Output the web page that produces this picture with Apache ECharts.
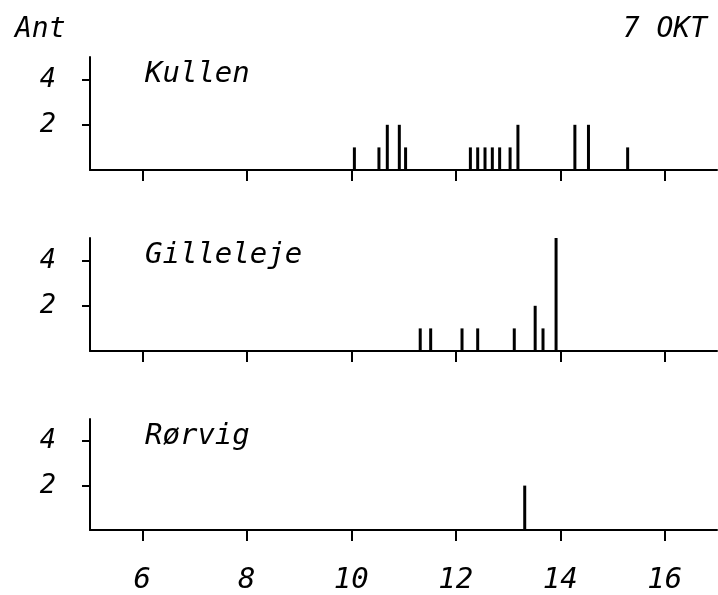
<!DOCTYPE html>
<html>
<head>
<meta charset="utf-8">
<script src="https://cdn.jsdelivr.net/npm/echarts@6/dist/echarts.min.js"></script>
<style>
  html, body { margin: 0; padding: 0; background: #fff; }
  #chart { width: 718px; height: 595px; }
</style>
</head>
<body>
<div id="chart"></div>
<script>
// sites, one panel each
var stations = ['Kullen', 'Gilleleje', 'Rørvig'];

// [hour, count] per station
var kullen = [
  [10.06, 1], [10.53, 1], [10.69, 2], [10.92, 2], [11.04, 1],
  [12.28, 1], [12.42, 1], [12.56, 1], [12.70, 1], [12.84, 1], [13.04, 1],
  [13.19, 2], [14.28, 2], [14.54, 2], [15.29, 1]
];
var gilleleje = [
  [11.32, 1], [11.52, 1], [12.12, 1], [12.42, 1], [13.12, 1],
  [13.52, 2], [13.67, 1], [13.92, 5]
];
var rorvig = [[13.32, 2]];

var hourTicks = [6, 8, 10, 12, 14, 16];
var countTicks = [2, 4];

var seriesData = [kullen, gilleleje, rorvig];

var FONT = 'DejaVu Sans Mono';
var panelTops = [57, 238, 419];
var panelHeight = 113;

var chart = echarts.init(document.getElementById('chart'), null, { renderer: 'canvas' });

var grids = [], xAxes = [], yAxes = [], series = [], titles = [];

titles.push({
  text: 'Ant', left: 10, top: 11,
  textStyle: { fontFamily: FONT, fontStyle: 'italic', fontWeight: 'normal', fontSize: 28, color: '#000' }
});
titles.push({
  text: '7 OKT', right: 6, top: 11,
  textStyle: { fontFamily: FONT, fontStyle: 'italic', fontWeight: 'normal', fontSize: 28, color: '#000' }
});

stations.forEach(function (name, i) {
  grids.push({ left: 90, right: 1, top: panelTops[i], height: panelHeight });
  titles.push({
    text: name, left: 140, top: panelTops[i] - 2,
    textStyle: { fontFamily: FONT, fontStyle: 'italic', fontWeight: 'normal', fontSize: 29, color: '#000' }
  });
  var last = i === stations.length - 1;
  xAxes.push({
    type: 'value', gridIndex: i, min: 5, max: 17,
    splitLine: { show: false },
    axisLine: { lineStyle: { color: '#000', width: 2 } },
    axisTick: { customValues: hourTicks, length: 11, lineStyle: { color: '#000', width: 2 } },
    axisLabel: {
      show: last, customValues: hourTicks, margin: 36,
      fontFamily: FONT, fontStyle: 'italic', fontSize: 29, color: '#000'
    }
  });
  yAxes.push({
    type: 'value', gridIndex: i, min: 0, max: 5,
    splitLine: { show: false },
    axisLine: { show: true, lineStyle: { color: '#000', width: 2 } },
    axisTick: { show: true, customValues: countTicks, length: 8, lineStyle: { color: '#000', width: 2 } },
    axisLabel: {
      customValues: countTicks, margin: 34, padding: [0, 0, 12, 0],
      fontFamily: FONT, fontStyle: 'italic', fontSize: 27, color: '#000'
    }
  });
  series.push({
    type: 'bar', xAxisIndex: i, yAxisIndex: i,
    data: seriesData[i],
    barWidth: 3,
    itemStyle: { color: '#000' },
    silent: true
  });
});

chart.setOption({
  backgroundColor: '#fff',
  animation: false,
  title: titles,
  grid: grids,
  xAxis: xAxes,
  yAxis: yAxes,
  series: series
});
</script>
</body>
</html>
